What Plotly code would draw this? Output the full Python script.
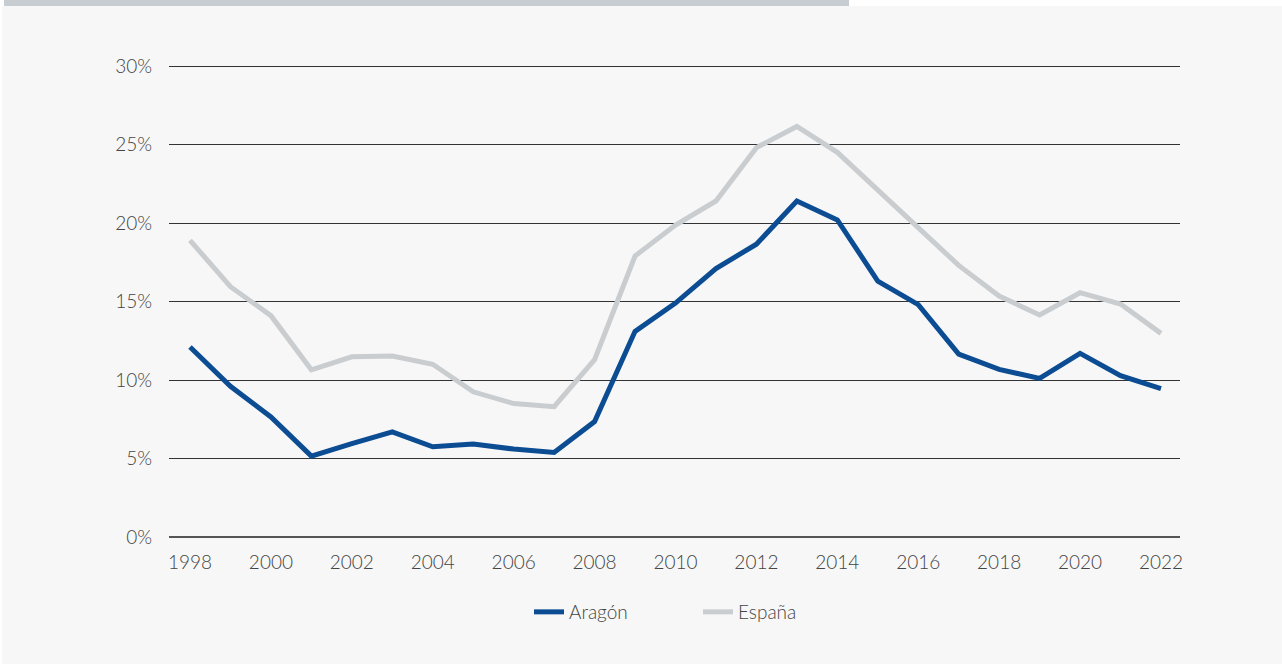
import plotly.graph_objects as go

# data (% )
years = list(range(1998, 2023))
aragon = [12.1, 9.6, 7.65, 5.15, 5.95, 6.7, 5.75, 5.92, 5.6, 5.38, 7.35, 13.1, 14.9, 17.1, 18.65,
          21.4, 20.2, 16.3, 14.8, 11.65, 10.68, 10.1, 11.7, 10.28, 9.45]
espana = [18.9, 15.94, 14.1, 10.65, 11.48, 11.53, 11.0, 9.25, 8.5, 8.3, 11.3, 17.9, 19.87, 21.4, 24.8,
          26.15, 24.5, 22.1, 19.75, 17.3, 15.35, 14.14, 15.56, 14.84, 12.97]
series = [("Aragón", aragon, "#0b4c93"), ("España", espana, "#c9cdd0")]

yticks = [0, 5, 10, 15, 20, 25, 30]
ytext = [f"{v}%" for v in yticks]
xticks = list(range(1998, 2023, 2))

font = dict(family="Lato", size=19, color="#444444", weight=300)

fig = go.Figure()
for name, vals, col in series:
    fig.add_trace(go.Scatter(x=years, y=vals, name=name, mode="lines",
                             line=dict(color=col, width=5)))

# page decoration: white strip + grey bar on top of the panel
W, H = 1282, 664
L, R, T, B = 169, 102, 64, 127
pw, ph = W - L - R, H - T - B
def px(x): return (x - L) / pw
def py(y): return (H - B - y) / ph

fig.add_shape(type="rect", xref="paper", yref="paper", x0=px(0), x1=px(W), y0=py(6), y1=py(0),
              fillcolor="white", line_width=0, layer="below")
fig.add_shape(type="rect", xref="paper", yref="paper", x0=px(4), x1=px(849), y0=py(6), y1=py(0),
              fillcolor="#c8cdd1", line_width=0, layer="below")
fig.add_shape(type="rect", xref="paper", yref="paper", x0=px(0), x1=px(2), y0=py(H), y1=py(0),
              fillcolor="white", line_width=0, layer="below")

fig.update_layout(
    width=W, height=H,
    margin=dict(l=L, r=R, t=T, b=B),
    paper_bgcolor="#f7f7f7", plot_bgcolor="#f7f7f7",
    font=font,
    showlegend=True,
    legend=dict(orientation="h", x=px(529), xanchor="left", y=py(612), yanchor="middle",
                font=dict(family="Lato", size=19, color="#444444", weight=300),
                bgcolor="rgba(0,0,0,0)", entrywidth=124, entrywidthmode="pixels"),
)
fig.update_xaxes(range=[1997.481, 2022.47], tickvals=xticks, ticktext=[str(x) for x in xticks],
                 showgrid=False, zeroline=False, showline=False, ticks="", ticklabelstandoff=12,
                 tickfont=font)
fig.update_yaxes(range=[0, 30 * ph / 471], tickvals=yticks, ticktext=ytext,
                 showgrid=True, gridcolor="#333333", gridwidth=1,
                 zeroline=True, zerolinecolor="#555555", zerolinewidth=2,
                 showline=False, ticks="", ticklabelstandoff=16, tickfont=font)

fig.write_html("out.html", config={"displayModeBar": False},
               post_script="document.body.style.margin='0';")
